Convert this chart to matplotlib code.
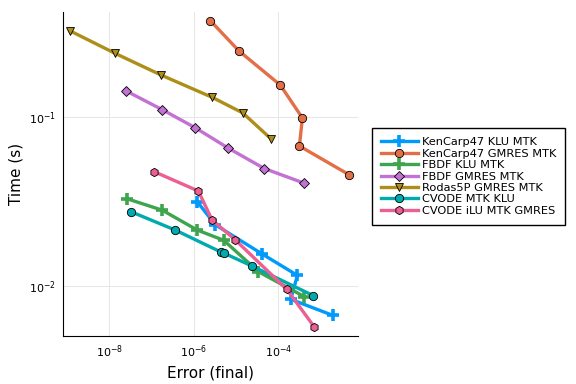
import matplotlib.pyplot as plt

# Work-precision data (error vs time)
kc_klu_err = [1.21e-6, 3.23e-6, 4.18e-5, 2.82e-4, 1.96e-4, 1.94e-3]
kc_klu_t = [0.0316, 0.0231, 0.0155, 0.0116, 0.00838, 0.00673]

kc_gmres_err = [2.45e-6, 1.16e-5, 1.11e-4, 3.70e-4, 3.14e-4, 4.71e-3]
kc_gmres_t = [0.373, 0.247, 0.155, 0.099, 0.0676, 0.0457]

fbdf_klu_err = [2.58e-8, 1.79e-7, 1.21e-6, 5.11e-6, 3.37e-5, 4.12e-4]
fbdf_klu_t = [0.033, 0.0282, 0.0215, 0.0187, 0.0122, 0.00868]

fbdf_gmres_err = [2.44e-8, 1.77e-7, 1.07e-6, 6.56e-6, 4.67e-5, 4.12e-4]
fbdf_gmres_t = [0.1435, 0.111, 0.0868, 0.0656, 0.0497, 0.0407]

rodas_err = [1.19e-9, 1.36e-8, 1.65e-7, 2.74e-6, 1.44e-5, 6.61e-5]
rodas_t = [0.324, 0.239, 0.178, 0.131, 0.106, 0.0747]

cvode_klu_err = [3.27e-8, 3.65e-7, 4.48e-6, 5.19e-6, 2.34e-5, 6.73e-4]
cvode_klu_t = [0.0276, 0.0215, 0.0159, 0.0157, 0.0132, 0.0088]

cvode_ilu_err = [1.14e-7, 1.28e-6, 2.70e-6, 9.59e-6, 1.58e-4, 7.11e-4]
cvode_ilu_t = [0.0477, 0.0366, 0.0247, 0.0188, 0.0096, 0.00574]

labels = ["KenCarp47 KLU MTK", "KenCarp47 GMRES MTK", "FBDF KLU MTK",
          "FBDF GMRES MTK", "Rodas5P GMRES MTK", "CVODE MTK KLU",
          "CVODE iLU MTK GMRES"]

series = [
    (kc_klu_err, kc_klu_t, "#009AFA", "+"),
    (kc_gmres_err, kc_gmres_t, "#E36F47", "o"),
    (fbdf_klu_err, fbdf_klu_t, "#3EA44E", "+"),
    (fbdf_gmres_err, fbdf_gmres_t, "#C371D2", "D"),
    (rodas_err, rodas_t, "#AC8E18", "v"),
    (cvode_klu_err, cvode_klu_t, "#00AAAE", "o"),
    (cvode_ilu_err, cvode_ilu_t, "#ED5E93", "h"),
]

fig = plt.figure(figsize=(5.76, 3.84), dpi=100)
ax = fig.add_axes([0.109, 0.125, 0.513, 0.844])

for (x, y, c, m), lab in zip(series, labels):
    if m == "+":
        ax.plot(x, y, color=c, lw=2.4, marker=m, ms=8, mew=2.6, mec=c, label=lab)
    else:
        ms = 6 if m != "D" else 4.8
        ax.plot(x, y, color=c, lw=2.4, marker=m, ms=ms, mec="black",
                mew=0.6, label=lab)

ax.set_xscale("log")
ax.set_yscale("log")
ax.set_xlim(10**-9.10, 10**-2.11)
ax.set_ylim(10**-2.294, 10**-0.377)
ax.set_xticks([1e-8, 1e-6, 1e-4])
ax.set_yticks([1e-2, 1e-1])
ax.minorticks_off()
ax.grid(True, color="#e6e6e6", lw=0.7)
ax.set_axisbelow(True)
for s in ["top", "right"]:
    ax.spines[s].set_visible(False)
ax.tick_params(labelsize=8, length=0, pad=5)
ax.set_xlabel("Error (final)", fontsize=11)
ax.set_ylabel("Time (s)", fontsize=11)

ax.legend(loc="center left", bbox_to_anchor=(1.045, 0.492), fontsize=8.2,
          frameon=True, fancybox=False, edgecolor="black", framealpha=1,
          handlelength=3.3, handletextpad=0.3, labelspacing=0.12,
          borderpad=0.8, borderaxespad=0)

fig.savefig("out.png", dpi=100)
